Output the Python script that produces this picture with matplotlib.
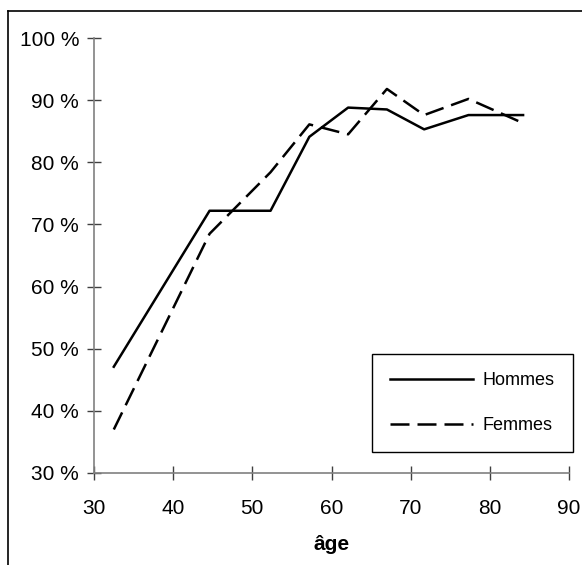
import matplotlib
matplotlib.use('Agg')
import matplotlib.pyplot as plt
from matplotlib.lines import Line2D
from matplotlib.ticker import FuncFormatter

plt.rcParams['font.family'] = ['Liberation Sans', 'DejaVu Sans']

# âge moyen de chaque tranche
ages = [32.5, 44.6, 52.3, 57.2, 62.1, 67.0, 71.7, 77.3, 84.2]
hommes = [47.1, 72.2, 72.2, 84.1, 88.8, 88.5, 85.3, 87.6, 87.6]
femmes = [37.0, 68.5, 78.4, 86.1, 84.5, 91.8, 87.6, 90.2, 86.3]

x_ticks = [30, 40, 50, 60, 70, 80, 90]
y_ticks = [30, 40, 50, 60, 70, 80, 90, 100]

fig = plt.figure(figsize=(5.82, 5.65), dpi=100)
ax = fig.add_axes([94 / 582, 1 - 473 / 565, 475 / 582, 435 / 565])

ax.plot(ages, hommes, color='black', lw=1.8, label='Hommes')
ax.plot(ages, femmes, color='black', lw=1.8, dashes=(7.6, 3.2), label='Femmes')

ax.set_xlim(30, 90)
ax.set_ylim(30, 100)
ax.set_xticks(x_ticks)
ax.set_yticks(y_ticks)
ax.yaxis.set_major_formatter(FuncFormatter(lambda v, p: f"{v:.0f} %"))

for s in ['top', 'right']:
    ax.spines[s].set_visible(False)
for s in ['left', 'bottom']:
    ax.spines[s].set_color('#808080')
    ax.spines[s].set_linewidth(1.2)

ax.tick_params(direction='inout', length=9.5, width=1, color='#404040',
               labelsize=15, colors='black')
ax.tick_params(axis='y', pad=6)
ax.tick_params(axis='x', pad=14)

ax.set_xlabel('âge', fontsize=15, fontweight='bold', labelpad=12)

leg = ax.legend(loc='lower right', bbox_to_anchor=(1.008, 0.048), fontsize=13,
                handlelength=4.6, handletextpad=0.55, labelspacing=1.55,
                borderpad=1.0, borderaxespad=0, fancybox=False, framealpha=1,
                edgecolor='black')
leg.get_frame().set_linewidth(1.0)

# cadre du graphique (gauche et haut)
fig.add_artist(Line2D([7.5 / 582, 7.5 / 582], [0, 1 - 11 / 565], color='black', lw=1.2))
fig.add_artist(Line2D([7.5 / 582, 1], [1 - 11 / 565, 1 - 11 / 565], color='black', lw=1.2))

plt.savefig('out.png', dpi=100)
plt.close()
